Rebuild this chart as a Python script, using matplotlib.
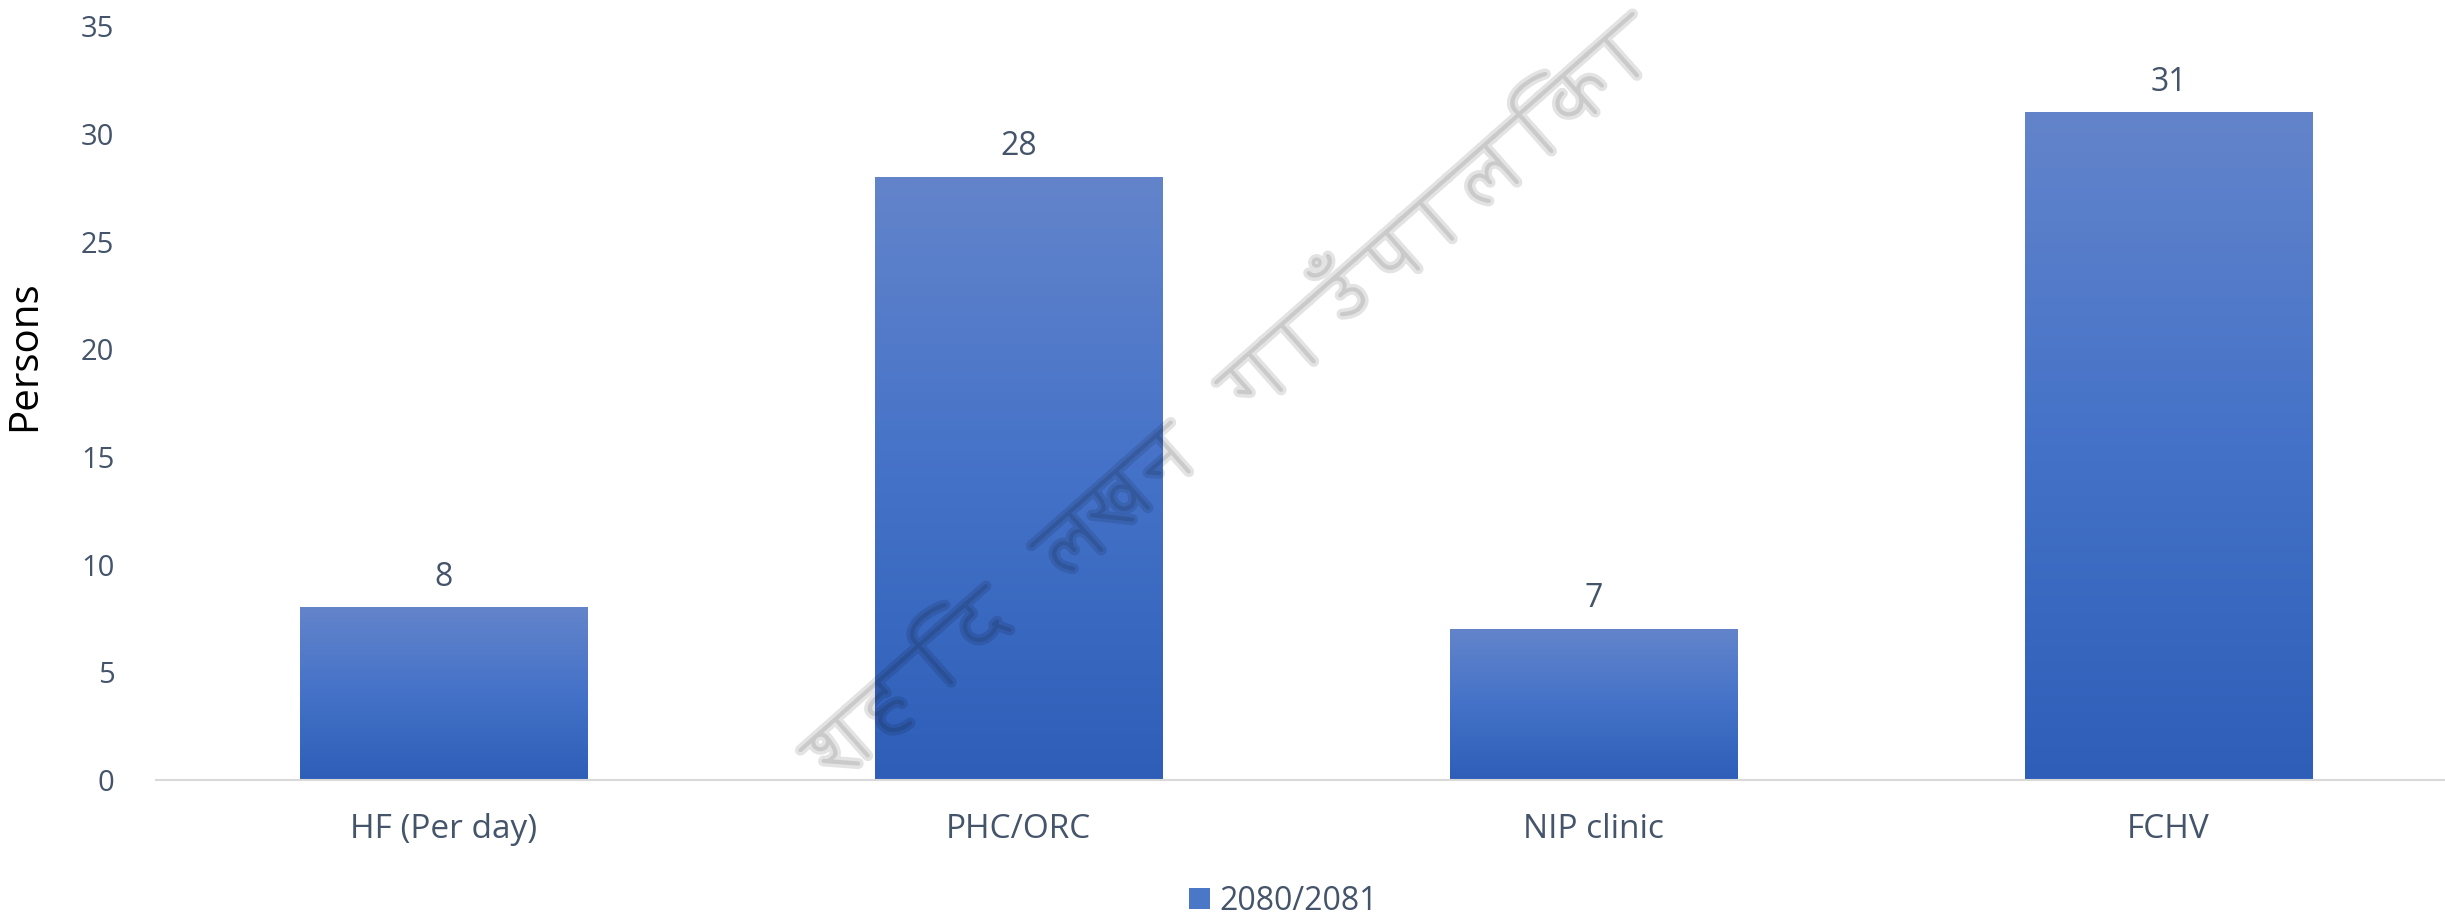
import numpy as np
import matplotlib
matplotlib.use("Agg")
import matplotlib.pyplot as plt
from matplotlib.colors import LinearSegmentedColormap
from matplotlib.patches import Patch
from matplotlib import font_manager, patheffects
from matplotlib.ft2font import FT2Font

categories = ["HF (Per day)", "PHC/ORC", "NIP clinic", "FCHV"]
values = [8, 28, 7, 31]
series_name = "2080/2081"
y_ticks = [0, 5, 10, 15, 20, 25, 30, 35]
watermark = "शहिद लखन गाउँपालिका"

TEXT = "#44546A"
plt.rcParams['font.family'] = ['Open Sans', 'DejaVu Sans']

fig = plt.figure(figsize=(24.45, 9.13), dpi=100)
ax = fig.add_axes([0.0638, 0.1457, 0.9407, 0.8253])

cmap = LinearSegmentedColormap.from_list("bar", ["#2E5EB8", "#4472C8", "#6384CB"])
grad = np.linspace(0, 1, 256).reshape(-1, 1)
width = 0.5
x = np.arange(len(categories))
bars = ax.bar(x, values, width=width, color="none", zorder=2)
for xi, v in zip(x, values):
    ax.imshow(grad, cmap=cmap, origin="lower", aspect="auto",
              extent=[xi - width / 2, xi + width / 2, 0, v], zorder=2)
    ax.annotate(str(v), (xi, v), xytext=(0, 10), textcoords="offset points",
                ha="center", va="bottom", fontsize=23, color=TEXT)

ax.set_xlim(-0.5, len(categories) - 0.5)
ax.set_ylim(0, 35)
ax.set_yticks(y_ticks)
ax.set_yticklabels([str(t) for t in y_ticks])
ax.set_xticks(x)
ax.set_xticklabels(categories)
ax.tick_params(axis="y", length=0, pad=30, labelsize=21, labelcolor=TEXT)
ax.tick_params(axis="x", length=0, pad=24, labelsize=24, labelcolor=TEXT)
for s in ["top", "right", "left"]:
    ax.spines[s].set_visible(False)
ax.spines["bottom"].set_color("#D9D9D9")
ax.spines["bottom"].set_linewidth(1.5)

ax.set_ylabel("Persons", fontsize=29, color="black",
              family=['Liberation Sans Narrow', 'Open Sans', 'DejaVu Sans'])
ax.yaxis.set_label_coords(-0.048, 0.563)

fig.legend(handles=[Patch(facecolor="#4A77C6", label=series_name)],
           loc="center", bbox_to_anchor=(0.525, 0.013), frameon=False,
           fontsize=23, labelcolor=TEXT, handlelength=0.65, handleheight=0.65,
           handletextpad=0.3)

def find_font(ch):
    preferred, others = [], []
    for f in font_manager.fontManager.ttflist:
        try:
            ft = FT2Font(f.fname)
            if ord(ch) in ft.get_charmap():
                n = f.name
                if "unifont" in n.lower():
                    others.append(n)
                else:
                    preferred.append(n)
        except Exception:
            pass
    if preferred:
        return preferred[0]
    if others:
        return others[0]
    return None

fam = find_font("ल")
if fam is not None:
    fig.text(0.505, 0.56, watermark, family=[fam], fontsize=74, color="black",
             rotation=41.5, ha="center", va="center", zorder=10,
             path_effects=[patheffects.Stroke(linewidth=5, foreground="black",
                                              alpha=0.11, joinstyle="round")])

fig.savefig("out.png", dpi=100)
